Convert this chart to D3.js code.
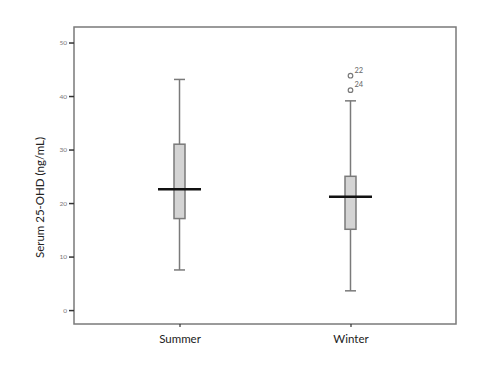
<!DOCTYPE html>
<html>
<head>
<meta charset="utf-8">
<script src="https://cdn.jsdelivr.net/npm/d3@7"></script>
<style>
  body { margin: 0; background: #fff; }
  text { font-family: Lato, "DejaVu Sans", sans-serif; }
</style>
</head>
<body>
<div id="chart"></div>
<script>
// box plot summary per season (ng/mL)
const seasons = ["Summer", "Winter"];
const whiskerLow = [7.5, 3.6];
const q1 = [17.1, 15.1];
const median = [22.6, 21.2];
const q3 = [31.0, 25.0];
const whiskerHigh = [43.1, 39.1];
const outliers = [
  { season: "Winter", value: 43.8, label: "22" },
  { season: "Winter", value: 41.1, label: "24" }
];
const yTicks = [0, 10, 20, 30, 40, 50];

const width = 500, height = 375;
const margin = { top: 27, right: 44, bottom: 51, left: 74 };

const svg = d3.select("#chart").append("svg")
  .attr("width", width)
  .attr("height", height);

const x = d3.scalePoint()
  .domain(seasons)
  .range([margin.left, width - margin.right])
  .padding(0.617);

const y = d3.scaleLinear()
  .domain([-2.6, 52.9])
  .range([height - margin.bottom, margin.top]);

const stroke = "#7a7a7a";

// frame
svg.append("rect")
  .attr("x", margin.left)
  .attr("y", margin.top)
  .attr("width", width - margin.left - margin.right)
  .attr("height", height - margin.top - margin.bottom)
  .attr("fill", "none")
  .attr("stroke", stroke)
  .attr("stroke-width", 1.5);

// y axis
const yAxis = svg.append("g")
  .attr("transform", "translate(" + margin.left + ",0)")
  .call(d3.axisLeft(y).tickValues(yTicks).tickSize(5).tickPadding(2));
yAxis.select(".domain").remove();
yAxis.selectAll(".tick line").attr("stroke", "#333").attr("stroke-width", 1.5);
yAxis.selectAll(".tick text")
  .attr("fill", "#777")
  .style("font-size", "6.5px")
  .style("font-family", "Lato, sans-serif");

// x axis
const xAxis = svg.append("g")
  .attr("transform", "translate(0," + (height - margin.bottom) + ")")
  .call(d3.axisBottom(x).tickSize(3).tickPadding(8));
xAxis.select(".domain").remove();
xAxis.selectAll(".tick line").attr("stroke", "#333").attr("stroke-width", 1.2);
xAxis.selectAll(".tick text")
  .attr("fill", "#222")
  .style("font-size", "11.5px")
  .style("font-family", "Lato, sans-serif");

// y label
svg.append("text")
  .attr("transform", "translate(44," + ((margin.top + height - margin.bottom) / 2 + 22) + ") rotate(-90)")
  .attr("text-anchor", "middle")
  .attr("fill", "#222")
  .style("font-size", "11.5px")
  .text("Serum 25-OHD (ng/mL)");

// boxes
const boxW = 11, capW = 11, medW = 43;
const g = svg.append("g");
seasons.forEach((s, i) => {
  const cx = x(s);
  // whisker
  g.append("line")
    .attr("x1", cx).attr("x2", cx)
    .attr("y1", y(whiskerLow[i])).attr("y2", y(whiskerHigh[i]))
    .attr("stroke", stroke).attr("stroke-width", 1.5);
  [whiskerLow[i], whiskerHigh[i]].forEach(v => {
    g.append("line")
      .attr("x1", cx - capW / 2).attr("x2", cx + capW / 2)
      .attr("y1", y(v)).attr("y2", y(v))
      .attr("stroke", stroke).attr("stroke-width", 1.5);
  });
  g.append("rect")
    .attr("x", cx - boxW / 2)
    .attr("y", y(q3[i]))
    .attr("width", boxW)
    .attr("height", y(q1[i]) - y(q3[i]))
    .attr("fill", "#d4d4d4")
    .attr("stroke", stroke)
    .attr("stroke-width", 1.5);
  g.append("line")
    .attr("x1", cx - medW / 2).attr("x2", cx + medW / 2)
    .attr("y1", y(median[i])).attr("y2", y(median[i]))
    .attr("stroke", "#111").attr("stroke-width", 2.5);
});

// outliers
outliers.forEach(o => {
  g.append("circle")
    .attr("cx", x(o.season))
    .attr("cy", y(o.value))
    .attr("r", 2.3)
    .attr("fill", "none")
    .attr("stroke", stroke)
    .attr("stroke-width", 1.2);
  g.append("text")
    .attr("x", x(o.season) + 4)
    .attr("y", y(o.value) - 3)
    .attr("fill", "#666")
    .style("font-size", "7.5px")
    .text(o.label);
});
</script>
</body>
</html>
